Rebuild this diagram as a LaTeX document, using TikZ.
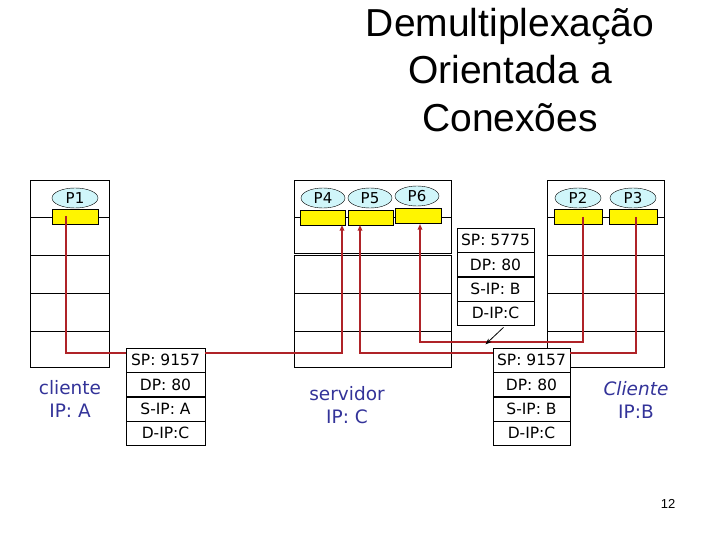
\documentclass[tikz,border=0pt]{standalone}
\usepackage{fontspec}
\setmainfont{DejaVu Sans}
\newfontfamily\titlefont{Liberation Sans}
\usetikzlibrary{
  positioning,
  shapes.geometric,        % ellipse processes
  arrows.meta,             % triangle arrowheads
  calc
}
\definecolor{sockyellow}{RGB}{255,245,0}
\definecolor{proccyan}{RGB}{208,246,250}
\definecolor{linkred}{RGB}{175,35,40}
\definecolor{labelblue}{RGB}{51,51,153}

\begin{document}
\begin{tikzpicture}[
    x=1pt, y=-1pt,
    >={Triangle[length=2mm, width=1.6mm]},
    node distance=0pt,
    hostbox/.style={draw, line width=0.6pt},
    proc/.style={ellipse, draw, fill=proccyan, inner sep=0pt,
                 minimum width=46pt, minimum height=20pt,
                 font=\fontsize{15}{15}\selectfont},
    sock/.style={rectangle, draw, fill=sockyellow, inner sep=0pt,
                 minimum width=46pt, minimum height=15pt},
    pkt/.style={rectangle, draw, fill=white, inner sep=0pt,
                minimum width=79pt, minimum height=24pt,
                font=\fontsize{15.5}{15.5}\selectfont},
    link/.style={draw=linkred, line width=2pt},
    hostlabel/.style={align=center, text=labelblue,
                      font=\fontsize{18.5}{23}\selectfont}
]
  \useasboundingbox (0,0) rectangle (720,540);

  % title
  \node[align=center, font=\titlefont\fontsize{39}{47.5}\selectfont] (title)
        at (510,70) {Demultiplexação\\Orientada a\\Conexões};

  % hosts
  \draw[hostbox] (30,180) rectangle (109,367);
  \draw[hostbox] (294,180) rectangle (451,253);
  \draw[hostbox] (294,255) rectangle (451,367);
  \draw[hostbox] (547,180) rectangle (664,367);
  \foreach \y in {217,255,293,331} {
    \draw[hostbox] (30,\y) -- (109,\y);
    \draw[hostbox] (547,\y) -- (664,\y);
  }
  \foreach \y in {217,293,331}
    \draw[hostbox] (294,\y) -- (451,\y);

  % processes and sockets
  \node[proc] (p1) at (75,198)  {P1};
  \node[proc, minimum width=44pt] (p4) at (323,198) {P4};
  \node[proc, minimum width=44pt] (p5) at (370,198) {P5};
  \node[proc, minimum width=44pt] (p6) at (417,196) {P6};
  \node[proc] (p2) at (578,198) {P2};
  \node[proc] (p3) at (633,198) {P3};

  \node[sock] (s1) at (75,216.5)  {};
  \node[sock, minimum width=45pt] (s4) at (322.5,217.5) {};
  \node[sock, minimum width=45pt] (s5) at (370.5,217.5) {};
  \node[sock] (s6) at (418,216) {};
  \node[sock, minimum width=48pt] (s2) at (578,217) {};
  \node[sock, minimum width=48pt] (s3) at (633,217) {};

  % segments
  \node[pkt] (pA1) at (165.5,360) {SP: 9157};
  \node[pkt, below=of pA1] (pA2) {DP: 80};
  \node[pkt, below=of pA2] (pA3) {S-IP: A};
  \node[pkt, below=of pA3] (pA4) {D-IP:C};

  \node[pkt, minimum width=77pt] (pB1) at (531.5,360) {SP: 9157};
  \node[pkt, minimum width=77pt, below=of pB1] (pB2) {DP: 80};
  \node[pkt, minimum width=77pt, below=of pB2] (pB3) {S-IP: B};
  \node[pkt, minimum width=77pt, below=of pB3] (pB4) {D-IP:C};

  \node[pkt, minimum width=77pt] (pC1) at (495.5,240) {SP: 5775};
  \node[pkt, minimum width=77pt, below=of pC1] (pC2) {DP: 80};
  \node[pkt, minimum width=77pt, below=of pC2] (pC3) {S-IP: B};
  \node[pkt, minimum width=77pt, below=of pC3] (pC4) {D-IP:C};

  % tap points on the sockets
  \coordinate (t1) at (66,216);
  \coordinate (t2) at (583,217);
  \coordinate (t3) at (636,217);
  \coordinate (a4) at (342,225);
  \coordinate (a5) at (360,225);
  \coordinate (a6) at (420,224);
  \coordinate (busA) at (0,353);
  \coordinate (busB) at (0,342);

  \draw[link] (t1) |- (pA1.west |- busA);
  \draw[link, ->] (pA1.east |- busA) -| (a4);
  \draw[link] (t3) |- (pB1.east |- busA);
  \draw[link, ->] (pB1.west |- busA) -| (a5);
  \draw[link, ->] (t2) |- (a6 |- busB) -- (a6);

  \draw[->, thick, >={Stealth[length=2.2mm]}]
       ($(pC4.south)+(8,2)$) -- ($(pC4.south)+(-10,19)$);

  % host labels
  \node[hostlabel] (labA) at (70,399)  {cliente\\IP: A};
  \node[hostlabel] (labC) at (347,405) {servidor\\IP: C};
  \node[hostlabel] (labB) at (636,400) {\itshape Cliente\\IP:B};

  \node[font=\titlefont\fontsize{13}{13}\selectfont] (pnum) at (668,504) {12};
\end{tikzpicture}
\end{document}
